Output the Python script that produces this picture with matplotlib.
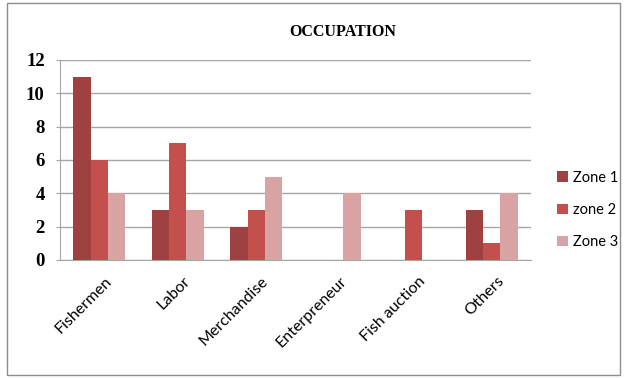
import matplotlib.pyplot as plt
import matplotlib.transforms as mtransforms
import numpy as np
from matplotlib.patches import Rectangle

# occupation counts per zone
categories = ['Fishermen', 'Labor', 'Merchandise', 'Enterpreneur', 'Fish auction', 'Others']
zone1 = [11, 3, 2, 0, 0, 3]
zone2 = [6, 7, 3, 0, 3, 1]
zone3 = [4, 3, 5, 4, 0, 4]
series_names = ['Zone 1', 'zone 2', 'Zone 3']
colors = ['#9E4140', '#C4504E', '#D9A3A3']

plt.rcParams['font.family'] = ['Lato', 'DejaVu Sans']

fig = plt.figure(figsize=(6.26, 3.78), dpi=100)
ax = fig.add_axes([60 / 626, 1 - 260 / 378, 471 / 626, 200 / 378])

# outer chart frame
fig.patches.append(Rectangle((7 / 626, 3 / 378), 613 / 626, 372 / 378,
                             transform=fig.transFigure, fill=False,
                             edgecolor='#8C8C8C', linewidth=1))

x = np.arange(len(categories))
w = 0.222
for i, (vals, name) in enumerate(zip([zone1, zone2, zone3], series_names)):
    ax.bar(x + (i - 1) * w, vals, width=w, color=colors[i], label=name, zorder=3)

ax.set_xlim(-0.5, len(categories) - 0.5)
ax.set_ylim(0, 12)
ax.set_yticks(range(0, 13, 2))
ax.set_yticklabels([str(v) for v in range(0, 13, 2)],
                   fontfamily='Liberation Serif', fontweight='bold', fontsize=13.5)
ax.yaxis.grid(True, color='#A6A6A6', linewidth=1, zorder=0)

for s in ['top', 'right']:
    ax.spines[s].set_visible(False)
ax.spines['left'].set_color('#A6A6A6')
ax.spines['bottom'].set_color('#A6A6A6')
ax.tick_params(axis='y', length=3, color='#A6A6A6', pad=8)
ax.tick_params(axis='x', length=0, labelsize=11.5, pad=10)

ax.set_xticks(x)
ax.set_xticklabels(categories, rotation=45, ha='right', rotation_mode='anchor')

# nudge the slanted labels a little to the right
shift = mtransforms.ScaledTranslation(5 / 100, 0, fig.dpi_scale_trans)
for lbl in ax.get_xticklabels():
    lbl.set_transform(lbl.get_transform() + shift)

fig.text(343 / 626, 1 - 32 / 378, 'OCCUPATION', ha='center', va='center',
         fontfamily='Liberation Serif', fontweight='bold', fontsize=11.5)

ax.legend(loc='center left', bbox_to_anchor=(1.055, 0.25), frameon=False,
          fontsize=10.5, handlelength=0.75, handleheight=0.75,
          labelspacing=1.25, handletextpad=0.35, borderpad=0, borderaxespad=0)

fig.savefig('out.png', dpi=100)
